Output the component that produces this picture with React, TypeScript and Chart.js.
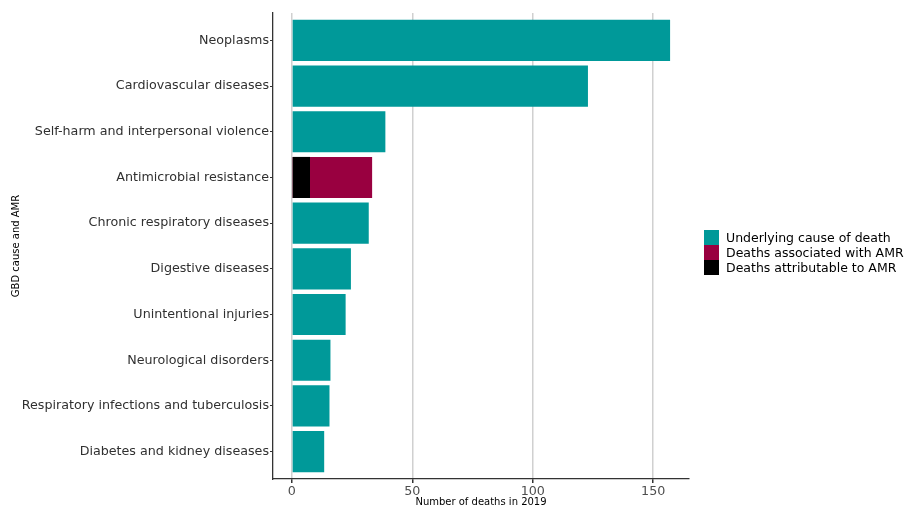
import React, { useEffect, useRef } from "react";
import { Chart, registerables } from "chart.js";

Chart.register(...registerables);

const categories: string[] = [
  "Neoplasms",
  "Cardiovascular diseases",
  "Self-harm and interpersonal violence",
  "Antimicrobial resistance",
  "Chronic respiratory diseases",
  "Digestive diseases",
  "Unintentional injuries",
  "Neurological disorders",
  "Respiratory infections and tuberculosis",
  "Diabetes and kidney diseases",
];

const underlyingDeaths: (number | null)[] = [157, 122.9, 38.8, null, 31.9, 24.5, 22.3, 16.0, 15.6, 13.4];
const associatedAMR: (number | null)[] = [null, null, null, 33.3, null, null, null, null, null, null];
const attributableAMR: (number | null)[] = [null, null, null, 7.5, null, null, null, null, null, null];

const xTicks: number[] = [0, 50, 100, 150];

const seriesLabels: string[] = [
  "Underlying cause of death",
  "Deaths associated with AMR",
  "Deaths attributable to AMR",
];
const seriesColors: string[] = ["#009999", "#990040", "#000000"];

const FONT = "'DejaVu Sans', sans-serif";

function toPoints(values: (number | null)[]) {
  return values
    .map((v, i) => (v == null ? null : { x: v, y: i + 1 }))
    .filter((p) => p !== null) as { x: number; y: number }[];
}

export default function App() {
  const canvasRef = useRef<HTMLCanvasElement | null>(null);

  useEffect(() => {
    if (!canvasRef.current) return;
    const maxVal = Math.max(...(underlyingDeaths.filter((v) => v != null) as number[]));
    const pad = maxVal * 0.05;
    const chart = new Chart(canvasRef.current, {
      type: "bar",
      data: {
        datasets: [
          {
            label: seriesLabels[0],
            data: toPoints(underlyingDeaths),
            backgroundColor: seriesColors[0],
            grouped: false,
          },
          {
            label: seriesLabels[2],
            data: toPoints(attributableAMR),
            backgroundColor: seriesColors[2],
            grouped: false,
          },
          {
            label: seriesLabels[1],
            data: toPoints(associatedAMR),
            backgroundColor: seriesColors[1],
            grouped: false,
          },
        ] as any,
      },
      options: {
        indexAxis: "y",
        animation: false,
        responsive: false,
        devicePixelRatio: 1,
        barPercentage: 0.9,
        categoryPercentage: 1,
        layout: { padding: { top: 13, right: 215, bottom: 0, left: 0 } },
        plugins: {
          legend: { display: false },
          tooltip: { enabled: false },
        },
        scales: {
          x: {
            type: "linear",
            position: "bottom",
            min: -pad,
            max: maxVal + pad,
            afterBuildTicks: (s: any) => {
              s.ticks = xTicks.map((v) => ({ value: v }));
            },
            afterFit: (s: any) => {
              s.height = 26;
            },
            grid: {
              color: "#d0d0d0",
              lineWidth: 1.5,
              tickColor: "#333333",
              tickLength: 4,
              drawOnChartArea: true,
            },
            border: { display: true, color: "#333333", width: 1.3 },
            ticks: {
              font: { family: FONT, size: 12.7 },
              color: "#4d4d4d",
              padding: 1,
              maxRotation: 0,
            },
            title: {
              display: true,
              text: "Number of deaths in 2019",
              font: { family: FONT, size: 10 },
              color: "#000000",
              padding: { top: 0, bottom: -3 },
            },
          },
          y: {
            type: "linear",
            position: "left",
            reverse: true,
            offset: false,
            bounds: "data",
            min: 0.4,
            max: categories.length + 0.6,
            afterBuildTicks: (s: any) => {
              s.ticks = categories.map((_, i) => ({ value: i + 1 }));
            },
            afterFit: (s: any) => {
              s.width = 273;
            },
            grid: {
              offset: false,
              drawOnChartArea: false,
              color: "#333333",
              tickColor: "#333333",
              tickLength: 3,
            },
            border: { display: true, color: "#333333", width: 1.3 },
            ticks: {
              autoSkip: false,
              font: { family: FONT, size: 12.7 },
              color: "#303030",
              padding: 1,
              callback: (v: any) => categories[Math.round(Number(v)) - 1] ?? "",
            },
            title: {
              display: true,
              text: "GBD cause and AMR",
              font: { family: FONT, size: 10 },
              color: "#000000",
              padding: { top: 10, bottom: 0 },
            },
          },
        },
      } as any,
    });
    return () => chart.destroy();
  }, []);

  return (
    <div style={{ position: "absolute", left: 0, top: 0, width: 904, height: 505, background: "#ffffff" }}>
      <canvas ref={canvasRef} width={904} height={505} style={{ width: 904, height: 505, display: "block" }} />
      <div style={{ position: "absolute", left: 704, top: 230, fontFamily: FONT, fontSize: 12.5, color: "#000" }}>
        {seriesLabels.map((label, i) => (
          <div key={label} style={{ display: "flex", alignItems: "center", height: 15 }}>
            <div style={{ width: 15, height: 15, background: seriesColors[i], marginRight: 7 }} />
            <span style={{ lineHeight: "15px", whiteSpace: "nowrap" }}>{label}</span>
          </div>
        ))}
      </div>
    </div>
  );
}
